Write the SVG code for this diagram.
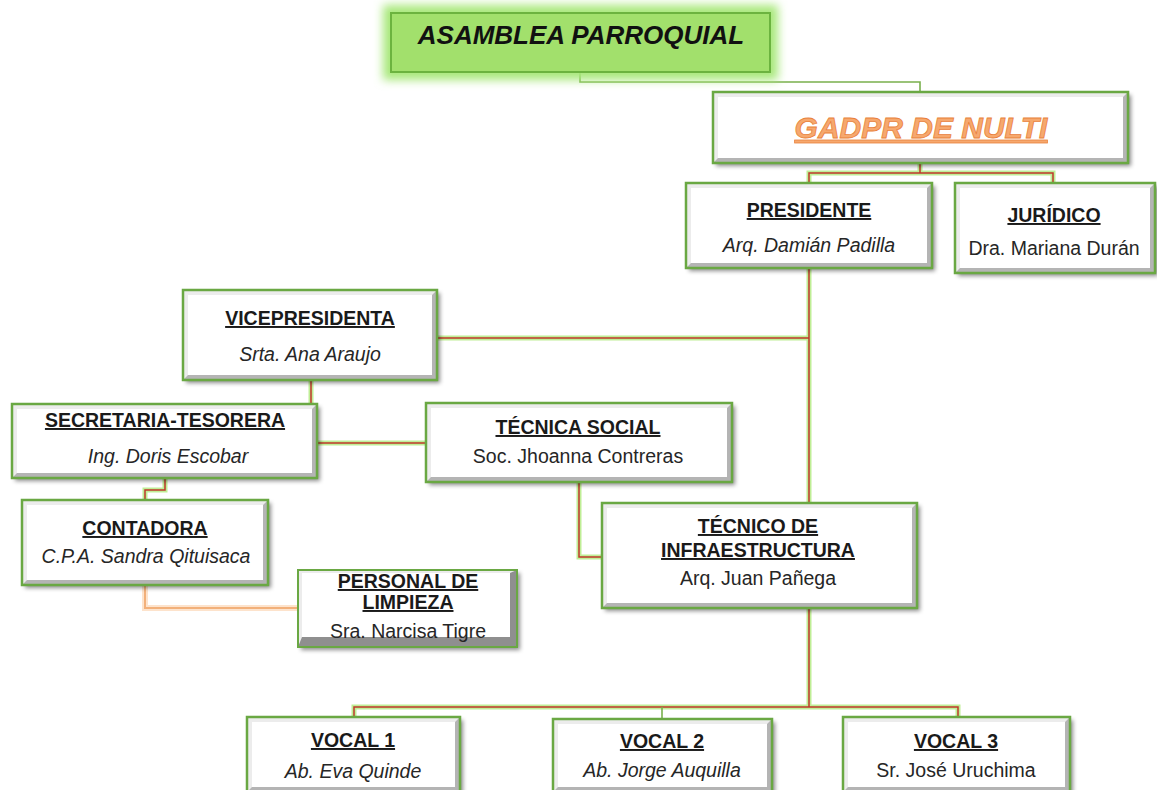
<svg xmlns="http://www.w3.org/2000/svg" width="1157" height="790" viewBox="0 0 1157 790">
<defs>
<style>
text{font-family:"Liberation Sans",Arial,sans-serif;text-anchor:middle}
.t{font-size:19.5px;font-weight:bold;fill:#1a1a1a;text-decoration:underline}
.ni{font-size:19.5px;font-style:italic;fill:#262626}
.nr{font-size:19.5px;fill:#262626}
.sh{fill:#b4b4b4;filter:url(#shadow)}
.hl{fill:#ececec}
.in{fill:#ffffff}
.bd{fill:none;stroke:#6aa843;stroke-width:2.5}
.glow{fill:none;stroke:#bfee96;stroke-width:5;stroke-linejoin:miter}
.red{fill:none;stroke:#c0392b;stroke-width:1.5}
.grn{fill:none;stroke:#79b04c;stroke-width:1.6}
.org{fill:none;stroke:#f2b07a;stroke-width:2}
.oglow{fill:none;stroke:#fde3cc;stroke-width:6}
</style>
<filter id="shadow" x="-10%" y="-10%" width="130%" height="140%">
<feDropShadow dx="3" dy="3" stdDeviation="2" flood-color="#000" flood-opacity="0.45"/>
</filter>
<filter id="blur" x="-20%" y="-50%" width="140%" height="200%">
<feGaussianBlur stdDeviation="5"/>
</filter>
</defs>

<g id="connectors">
<path class="grn" d="M580,72 V82 H920 V92"/>
<path class="glow" d="M920,163 V173 M809,183 V173 H1053 V183"/>
<path class="red" d="M920,163 V173 M809,183 V173 H1053 V183"/>
<path class="glow" d="M809,268 V707 M437,338 H809 M311,380 V404 M317,443 H426 M165,478 V490 H145 V500 M579,482 V557 H602 M354,717 V707 H958 V717"/>
<path class="red" d="M809,268 V707 M437,338 H809 M311,380 V404 M317,443 H426 M165,478 V490 H145 V500 M579,482 V557 H602 M354,717 V707 H958 V717"/>
<path class="grn" d="M662,707 V719"/>
<path class="oglow" d="M145,585 V608 H298"/>
<path class="org" d="M145,585 V608 H298"/>
</g>

<g id="asamblea">
<rect x="383" y="5" width="395" height="75" fill="#a8e87a" filter="url(#blur)"/>
<rect x="391" y="13" width="379" height="59" fill="#a2e06c" stroke="#6cb33f" stroke-width="2"/>
<text x="581" y="44" style="font-size:26px;font-weight:bold;font-style:italic;fill:#111">ASAMBLEA PARROQUIAL</text>
</g>

<g id="gadpr">
<rect class="sh" x="713" y="92" width="415" height="71"/>
<polygon class="hl" points="713,92 1128,92 1123,97 718,97 718,158 713,163"/>
<rect class="in" x="718" y="97" width="405" height="61"/>
<rect class="bd" x="713" y="92" width="415" height="71"/>
<text x="921" y="138" style="font-size:30px;font-weight:bold;font-style:italic;fill:#f6a86e;stroke:#e9813a;stroke-width:0.8;text-decoration:underline">GADPR DE NULTI</text>
</g>

<g id="presidente">
<rect class="sh" x="686" y="183" width="246" height="85"/>
<polygon class="hl" points="686,183 932,183 927,188 691,188 691,263 686,268"/>
<rect class="in" x="691" y="188" width="236" height="75"/>
<rect class="bd" x="686" y="183" width="246" height="85"/>
<text class="t" x="809" y="217">PRESIDENTE</text>
<text class="ni" x="809" y="252">Arq. Damián Padilla</text>
</g>

<g id="juridico">
<rect class="sh" x="955" y="183" width="200" height="90"/>
<polygon class="hl" points="955,183 1155,183 1150,188 960,188 960,268 955,273"/>
<rect class="in" x="960" y="188" width="190" height="80"/>
<rect class="bd" x="955" y="183" width="200" height="90"/>
<text class="t" x="1054" y="222">JURÍDICO</text>
<text class="nr" x="1054" y="255">Dra. Mariana Durán</text>
</g>

<g id="vicepresidenta">
<rect class="sh" x="183" y="290" width="254" height="90"/>
<polygon class="hl" points="183,290 437,290 432,295 188,295 188,375 183,380"/>
<rect class="in" x="188" y="295" width="244" height="80"/>
<rect class="bd" x="183" y="290" width="254" height="90"/>
<text class="t" x="310" y="325">VICEPRESIDENTA</text>
<text class="ni" x="310" y="361">Srta. Ana Araujo</text>
</g>

<g id="secretaria">
<rect class="sh" x="12" y="404" width="305" height="74"/>
<polygon class="hl" points="12,404 317,404 312,409 17,409 17,473 12,478"/>
<rect class="in" x="17" y="409" width="295" height="64"/>
<rect class="bd" x="12" y="404" width="305" height="74"/>
<text class="t" x="165" y="427">SECRETARIA-TESORERA</text>
<text class="ni" x="168" y="463">Ing. Doris Escobar</text>
</g>

<g id="contadora">
<rect class="sh" x="22" y="500" width="246" height="85"/>
<polygon class="hl" points="22,500 268,500 263,505 27,505 27,580 22,585"/>
<rect class="in" x="27" y="505" width="236" height="75"/>
<rect class="bd" x="22" y="500" width="246" height="85"/>
<text class="t" x="145" y="535">CONTADORA</text>
<text class="ni" x="146" y="563">C.P.A. Sandra Qituisaca</text>
</g>

<g id="personal">
<rect x="298" y="570" width="219" height="77" fill="#8f8f8f" filter="url(#shadow)"/>
<polygon class="hl" points="298,570 517,570 510,573 302,573 302,637 298,647"/>
<rect class="in" x="302" y="573" width="208" height="64"/>
<rect class="bd" x="298" y="570" width="219" height="77" style="stroke-width:2"/>
<text class="t" x="408" y="588">PERSONAL DE</text>
<text class="t" x="408" y="609">LIMPIEZA</text>
<text class="nr" x="408" y="638">Sra. Narcisa Tigre</text>
</g>

<g id="tecnica-social">
<rect class="sh" x="426" y="403" width="306" height="79"/>
<polygon class="hl" points="426,403 732,403 727,408 431,408 431,477 426,482"/>
<rect class="in" x="431" y="408" width="296" height="69"/>
<rect class="bd" x="426" y="403" width="306" height="79"/>
<text class="t" x="578" y="434">TÉCNICA SOCIAL</text>
<text class="nr" x="578" y="463">Soc. Jhoanna Contreras</text>
</g>

<g id="tecnico-infraestructura">
<rect class="sh" x="602" y="503" width="315" height="105"/>
<polygon class="hl" points="602,503 917,503 912,508 607,508 607,603 602,608"/>
<rect class="in" x="607" y="508" width="305" height="95"/>
<rect class="bd" x="602" y="503" width="315" height="105"/>
<text class="t" x="758" y="533">TÉCNICO DE</text>
<text class="t" x="758" y="557">INFRAESTRUCTURA</text>
<text class="nr" x="758" y="585">Arq. Juan Pañega</text>
</g>

<g id="vocal1">
<rect class="sh" x="247" y="717" width="213" height="75"/>
<polygon class="hl" points="247,717 460,717 455,722 252,722 252,787 247,792"/>
<rect class="in" x="252" y="722" width="203" height="65"/>
<rect class="bd" x="247" y="717" width="213" height="75"/>
<text class="t" x="353" y="747">VOCAL 1</text>
<text class="ni" x="353" y="778">Ab. Eva Quinde</text>
</g>

<g id="vocal2">
<rect class="sh" x="553" y="719" width="219" height="73"/>
<polygon class="hl" points="553,719 772,719 767,724 558,724 558,787 553,792"/>
<rect class="in" x="558" y="724" width="209" height="63"/>
<rect class="bd" x="553" y="719" width="219" height="73"/>
<text class="t" x="662" y="748">VOCAL 2</text>
<text class="ni" x="662" y="777">Ab. Jorge Auquilla</text>
</g>

<g id="vocal3">
<rect class="sh" x="843" y="717" width="227" height="75"/>
<polygon class="hl" points="843,717 1070,717 1065,722 848,722 848,787 843,792"/>
<rect class="in" x="848" y="722" width="217" height="65"/>
<rect class="bd" x="843" y="717" width="227" height="75"/>
<text class="t" x="956" y="748">VOCAL 3</text>
<text class="nr" x="956" y="777">Sr. José Uruchima</text>
</g>
</svg>
